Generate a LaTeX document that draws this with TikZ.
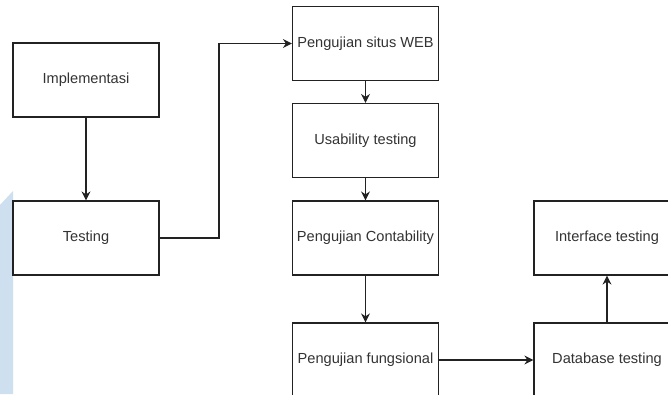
\documentclass[tikz,border=0pt]{standalone}
\usepackage{fontspec}
\setmainfont{Liberation Sans}
\usetikzlibrary{arrows.meta}
\definecolor{linec}{HTML}{222222}
\definecolor{textc}{HTML}{333333}
\definecolor{bandc}{HTML}{CEDFF0}
\tikzset{
  stepbox/.style={draw=linec, line width=1.2pt, fill=white, minimum width=146pt, minimum height=74pt,
    inner sep=0pt, text=textc, font=\fontsize{14.6}{17}\selectfont},
  conn/.style={draw=linec, line width=1.2pt, -{Stealth[length=9pt,width=9pt,inset=3pt]}}
}
\begin{document}
\begin{tikzpicture}[x=1pt,y=-1pt]
\useasboundingbox (0,0) rectangle (668,394);
\clip (0,0) rectangle (668,394);
\fill[white] (0,0) rectangle (668,394);
\fill[bandc] (0,205) -- (13,191) -- (13,394) -- (0,394) -- cycle;
\node[stepbox] (impl) at (86,80) {Implementasi};
\node[stepbox] (test) at (86,238) {Testing};
\node[stepbox] (web) at (365.5,43.5) {Pengujian situs WEB};
\node[stepbox] (usab) at (365.5,140.5) {Usability testing};
\node[stepbox] (cont) at (365.5,238) {Pengujian Contability};
\node[stepbox] (fung) at (365.5,360) {Pengujian fungsional};
\node[stepbox] (intf) at (607,238) {Interface testing};
\node[stepbox] (db) at (607,360) {Database testing};
\coordinate (bend1) at (219,238);
\coordinate (bend2) at (219,43.5);
\draw[conn] (impl) -- (test);
\draw[conn] (test.east) -- (bend1) -- (bend2) -- (web.west);
\draw[conn] (web) -- (usab);
\draw[conn] (usab) -- (cont);
\draw[conn] (cont) -- (fung);
\draw[conn] (fung) -- (db);
\draw[conn] (db) -- (intf);
\end{tikzpicture}
\end{document}
